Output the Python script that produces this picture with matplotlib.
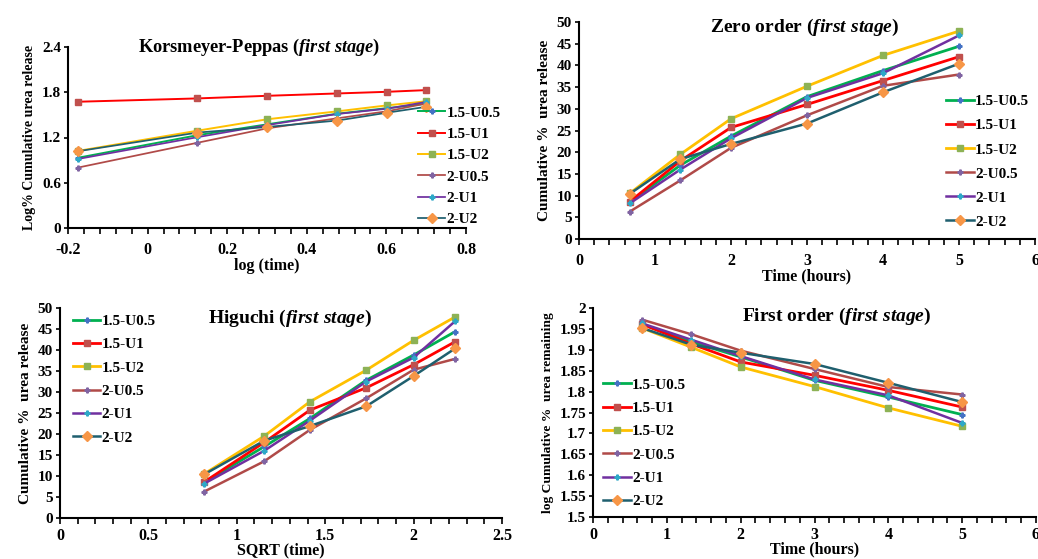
import numpy as np
import matplotlib
matplotlib.use("Agg")
import matplotlib.pyplot as plt
from matplotlib.ticker import MultipleLocator, FormatStrFormatter

plt.rcParams['font.family'] = 'Liberation Serif'
plt.rcParams['font.weight'] = 'bold'
plt.rcParams['mathtext.fontset'] = 'custom'
plt.rcParams['mathtext.it'] = 'Liberation Serif:italic:bold'
plt.rcParams['mathtext.rm'] = 'Liberation Serif:bold'

labels = ["1.5-U0.5", "1.5-U1", "1.5-U2", "2-U0.5", "2-U1", "2-U2"]

# x values
t_hours = [0.667, 1.333, 2, 3, 4, 5]
sqrt_t = [0.816, 1.155, 1.414, 1.732, 2.0, 2.236]
log_t = [-0.176, 0.125, 0.301, 0.477, 0.602, 0.699]

# cumulative % urea release (zero order / Higuchi)
rel_15U05 = [8.5, 17.0, 23.7, 32.8, 38.8, 44.4]
rel_15U1 = [8.6, 18.0, 25.7, 31.0, 36.5, 42.0]
rel_15U2 = [10.5, 19.5, 27.7, 35.2, 42.3, 47.9]
rel_2U05 = [6.3, 13.5, 21.0, 28.5, 35.3, 37.9]
rel_2U1 = [8.2, 16.0, 23.2, 32.5, 38.2, 46.9]
rel_2U2 = [10.4, 18.4, 21.9, 26.6, 33.8, 40.4]

# Korsmeyer-Peppas: log % cumulative release
kp_15U05 = [0.93, 1.23, 1.375, 1.516, 1.589, 1.647]
kp_15U1 = [1.674, 1.718, 1.753, 1.784, 1.806, 1.828]
kp_15U2 = [1.021, 1.29, 1.442, 1.547, 1.626, 1.68]
kp_2U05 = [0.80, 1.13, 1.322, 1.455, 1.548, 1.65]
kp_2U1 = [0.914, 1.204, 1.365, 1.512, 1.582, 1.671]
kp_2U2 = [1.017, 1.265, 1.34, 1.425, 1.529, 1.606]

# first order: log cumulative % remaining
fo_15U05 = [1.961, 1.919, 1.883, 1.827, 1.787, 1.745]
fo_15U1 = [1.961, 1.914, 1.871, 1.839, 1.803, 1.763]
fo_15U2 = [1.952, 1.906, 1.859, 1.812, 1.761, 1.717]
fo_2U05 = [1.972, 1.937, 1.898, 1.854, 1.811, 1.793]
fo_2U1 = [1.963, 1.924, 1.885, 1.829, 1.791, 1.725]
fo_2U2 = [1.952, 1.912, 1.893, 1.866, 1.821, 1.775]

rel = [rel_15U05, rel_15U1, rel_15U2, rel_2U05, rel_2U1, rel_2U2]
kp = [kp_15U05, kp_15U1, kp_15U2, kp_2U05, kp_2U1, kp_2U2]
fo = [fo_15U05, fo_15U1, fo_15U2, fo_2U05, fo_2U1, fo_2U2]

line_cols = ["#00B050", "#FF0000", "#FFC000", "#B04A48", "#7030A0", "#1F5F6E"]
mark_cols = ["#4472C4", "#C0504D", "#8DB255", "#8064A2", "#2EA8C8", "#F79646"]
markers = ["P", "s", "s", "P", "P", "D"]
msizes = [3.5, 4, 4.5, 3.5, 3.5, 5]


def draw(ax, x, ys, lw_scale=1.0):
    for i, y in enumerate(ys):
        lw = (2.0 if i < 3 else 1.8) * lw_scale
        ax.plot(x, y, color=line_cols[i], lw=lw, marker=markers[i],
                ms=msizes[i], mfc=mark_cols[i], mec=mark_cols[i],
                label=labels[i])


def style(ax, xlim, xmaj, ylim, ymaj, xlabel, ylabel, ylsize, title, tsize, tpos, xpad=6, xlpad=0):
    ax.set_xlim(*xlim)
    ax.set_ylim(*ylim)
    ax.xaxis.set_major_locator(MultipleLocator(xmaj))
    ax.xaxis.set_minor_locator(MultipleLocator(xmaj / 5))
    ax.yaxis.set_major_locator(MultipleLocator(ymaj))
    ax.xaxis.set_major_formatter(FormatStrFormatter('%g'))
    ax.yaxis.set_major_formatter(FormatStrFormatter('%g'))
    ax.spines['top'].set_visible(False)
    ax.spines['right'].set_visible(False)
    ax.spines['left'].set_linewidth(1.5)
    ax.spines['bottom'].set_linewidth(1.5)
    ax.tick_params(axis='x', which='major', direction='out', length=4, width=1.2, labelsize=11.5, pad=xpad)
    ax.tick_params(axis='x', which='minor', direction='out', length=4, width=1.2)
    ax.tick_params(axis='y', which='major', direction='out', length=3, width=1.2, labelsize=11, pad=2)
    ax.set_xlabel(xlabel, fontsize=11.5, fontweight='bold', labelpad=xlpad)
    ax.set_ylabel(ylabel, fontsize=ylsize, fontweight='bold', labelpad=4)
    ax.text(tpos[0], tpos[1], title, transform=ax.transAxes, ha='center', va='center',
            fontsize=tsize, fontweight='bold')


def legend(ax, anchor, spacing):
    ax.legend(loc='upper left', bbox_to_anchor=anchor, frameon=False, fontsize=11,
              handlelength=1.8, handletextpad=0.1, labelspacing=spacing, borderpad=0,
              borderaxespad=0)


fig = plt.figure(figsize=(10.38, 5.59), dpi=100)
W, H = 1038, 559


def add_ax(l, t, r, b):
    return fig.add_axes([l / W, 1 - b / H, (r - l) / W, (b - t) / H])


# Korsmeyer-Peppas
ax1 = add_ax(68, 47, 466, 228)
draw(ax1, log_t, kp, lw_scale=0.7)
style(ax1, (-0.2, 0.8), 0.2, (0, 2.4), 0.6, "log (time)", "Log% Cumulative urea release", 10,
      "Korsmeyer-Peppas (" + r"$\mathit{first\ stage}$" + ")", 13.2, (0.48, 1.0))
legend(ax1, (0.879, 0.675), 0.5)

# Zero order
ax2 = add_ax(579, 22, 1035, 239)
draw(ax2, t_hours, rel)
style(ax2, (0, 6), 1, (0, 50), 5, "Time (hours)", "Cumulative %  urea release", 11,
      "Zero order (" + r"$\mathit{first\ stage}$" + ")", 14, (0.495, 0.975))
legend(ax2, (0.805, 0.665), 0.68)

# Higuchi
ax3 = add_ax(60, 308, 502, 518)
draw(ax3, sqrt_t, rel)
style(ax3, (0, 2.5), 0.5, (0, 50), 5, "SQRT (time)", "Cumulative %  urea release", 11,
      "Higuchi (" + r"$\mathit{first\ stage)}$", 14, (0.52, 0.95), xpad=3, xlpad=-1)
legend(ax3, (0.029, 0.97), 0.63)

# First order
ax4 = add_ax(593, 308, 1036, 517)
draw(ax4, t_hours, fo)
style(ax4, (0, 6), 1, (1.5, 2.0), 0.05, "Time (hours)", "log Cumulative %  urea remaining", 9.7,
      "First order (" + r"$\mathit{first\ stage}$" + ")", 14, (0.55, 0.96), xpad=3, xlpad=-1)
legend(ax4, (0.023, 0.665), 0.63)

fig.savefig("out.png", dpi=100)
